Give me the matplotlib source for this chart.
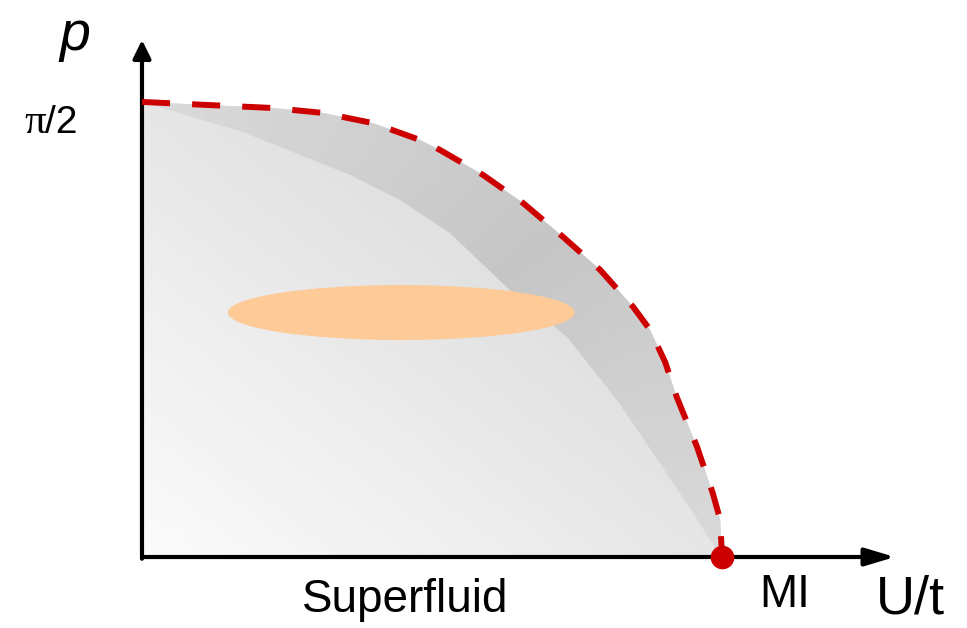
import numpy as np
import matplotlib
matplotlib.use('Agg')
import matplotlib.pyplot as plt
from matplotlib.patches import Polygon, Ellipse

# Fronteira de fase (linha tracejada): U/t normalizado por Uc, p em rad
u_borda = [0.0, 0.226, 0.312, 0.398, 0.479, 0.514, 0.588, 0.657, 0.726,
           0.790, 0.847, 0.876, 0.902, 0.922, 0.957, 0.984, 0.997, 1.0]
p_borda = [1.571, 1.550, 1.533, 1.498, 1.440, 1.405, 1.319, 1.222, 1.105,
           0.991, 0.863, 0.784, 0.673, 0.552, 0.380, 0.221, 0.128, 0.0]

# Fronteira interna da faixa mais escura
u_interna = [0.0, 0.174, 0.359, 0.445, 0.531, 0.634, 0.733, 0.819, 0.893, 0.950, 0.991, 1.0]
p_interna = [1.571, 1.467, 1.319, 1.232, 1.118, 0.922, 0.759, 0.542, 0.324, 0.152, 0.024, 0.0]

# Elipse laranja (centro, largura, altura)
elipse_centro = (0.447, 0.844)
elipse_larg = 0.598
elipse_alt = 0.190

# Ponto critico
u_crit = 1.0
p_crit = 0.0

# limites (origem em ~ (142, 557) px)
xlim = (-0.2448, 1.4224)
ylim = (-0.2451, 1.9229)
u_seta = 1.298
p_seta = 1.785

fig = plt.figure(figsize=(9.67, 6.28), dpi=100)
ax = fig.add_axes([0, 0, 1, 1])
ax.set_xlim(*xlim)
ax.set_ylim(*ylim)
ax.axis('off')

# gradientes de cinza
gx = np.linspace(xlim[0], xlim[1], 400)
gy = np.linspace(ylim[0], ylim[1], 400)
X, Y = np.meshgrid(gx, gy)
t = (X + Y / 1.571) / 2
grad_ext = np.clip(0.985 - 0.17 * t, 0, 1)
ang = np.arctan2(Y / 1.571, X)
grad_faixa = np.clip(0.775 + 0.08 * np.abs(ang - np.pi / 4) / (np.pi / 4), 0, 1)

poly_ext = Polygon(list(zip(u_borda, p_borda)) + [(0, 0)], closed=True,
                   facecolor='none', edgecolor='none')
ax.add_patch(poly_ext)
im1 = ax.imshow(grad_ext, cmap='gray', vmin=0, vmax=1, origin='lower',
                extent=[*xlim, *ylim], aspect='auto', zorder=1)
im1.set_clip_path(poly_ext)

pts_faixa = list(zip(u_borda, p_borda)) + list(zip(u_interna, p_interna))[::-1]
poly_faixa = Polygon(pts_faixa, closed=True, facecolor='none', edgecolor='none')
ax.add_patch(poly_faixa)
im2 = ax.imshow(grad_faixa, cmap='gray', vmin=0, vmax=1, origin='lower',
                extent=[*xlim, *ylim], aspect='auto', zorder=2)
im2.set_clip_path(poly_faixa)

# elipse
ax.add_patch(Ellipse(elipse_centro, elipse_larg, elipse_alt,
                     facecolor='#fdca98', edgecolor='none', zorder=3))

# eixos com setas
ax.annotate('', xy=(u_seta, 0), xytext=(0, 0),
            arrowprops=dict(arrowstyle='-|>,head_length=0.9,head_width=0.27',
                            mutation_scale=20, lw=3, color='black',
                            shrinkA=0, shrinkB=0), zorder=4)
ax.annotate('', xy=(0, p_seta), xytext=(0, -0.006),
            arrowprops=dict(arrowstyle='-|>,head_length=0.55,head_width=0.27',
                            mutation_scale=20, lw=3, color='black',
                            shrinkA=0, shrinkB=0), zorder=4)

# linha tracejada
ax.plot(u_borda, p_borda, color='#cc0000', lw=4.3, dashes=(4.7, 3.7),
        zorder=5, dash_capstyle='butt')
ax.plot([u_crit], [p_crit], 'o', color='#cc0000', markersize=16,
        zorder=6, clip_on=False)

# textos
W, H = 967, 628
def fpx(x, y):
    return x / W, 1 - y / H

fig.text(*fpx(75, 50), 'p', fontsize=40, style='italic',
         family='Liberation Sans', ha='center', va='baseline')
fig.text(*fpx(46, 133), 'π', fontsize=31, family='Liberation Serif',
         ha='right', va='baseline')
fig.text(*fpx(45, 133), '/2', fontsize=28, family='Liberation Sans',
         ha='left', va='baseline')
fig.text(*fpx(405, 612), 'Superfluid', fontsize=33, family='Liberation Sans',
         ha='center', va='baseline')
fig.text(*fpx(785, 607), 'MI', fontsize=33, family='Liberation Sans',
         ha='center', va='baseline')
fig.text(*fpx(910, 614), 'U/t', fontsize=39, family='Liberation Sans',
         ha='center', va='baseline')

fig.savefig('out.png', dpi=100)
